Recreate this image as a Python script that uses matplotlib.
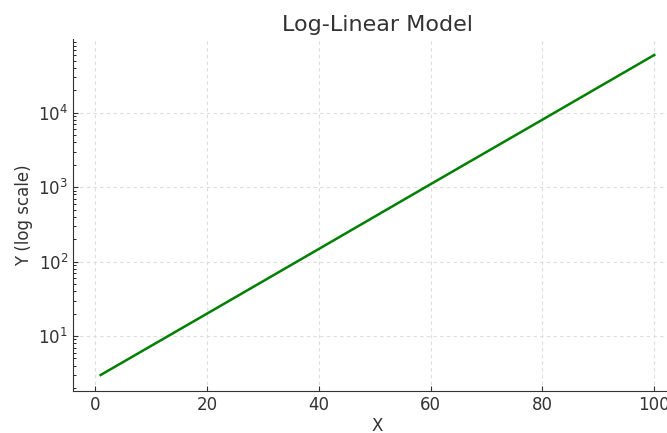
import matplotlib.pyplot as plt

# valores
x_vals = [1, 20, 40, 60, 80, 100]
y_vals = [3.0, 20, 148, 1100, 8100, 60000]

title = 'Log-Linear Model'
x_label = 'X'
y_label = 'Y (log scale)'

plt.rcParams['xtick.direction'] = 'in'
plt.rcParams['ytick.direction'] = 'in'

fig = plt.figure(figsize=(6.67, 4.33), dpi=100)
ax = fig.add_axes([0.1094, 0.097, 0.913, 0.813])

ax.plot(x_vals, y_vals, color='green', linewidth=1.8)
ax.set_yscale('log')

ax.set_title(title, fontsize=16, color='#333333')
ax.set_xlabel(x_label, fontsize=12, color='#333333', labelpad=2)
ax.set_ylabel(y_label, fontsize=12, color='#333333')
ax.tick_params(labelsize=12, colors='#333333')
ax.grid(True, linestyle=(0, (3, 3)), color='#dddddd', linewidth=0.8)

ax.spines['top'].set_visible(False)
ax.spines['right'].set_visible(False)
for s in ['left', 'bottom']:
    ax.spines[s].set_color('#333333')

fig.savefig('out.png', dpi=100)
